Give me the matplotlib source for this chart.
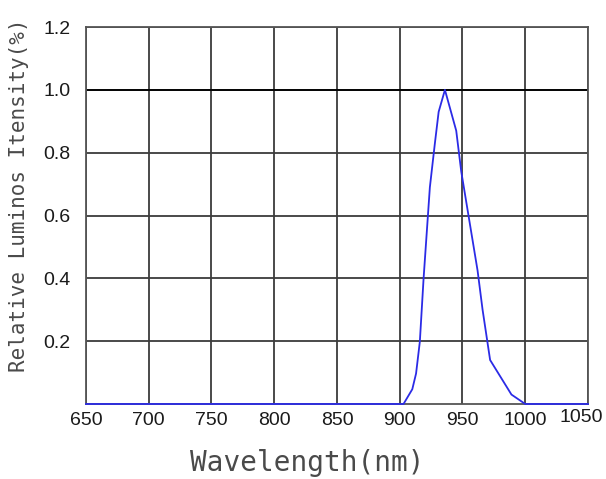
import matplotlib
matplotlib.use('Agg')
import matplotlib.pyplot as plt
from matplotlib import rcParams

rcParams['font.family'] = ['Liberation Sans', 'DejaVu Sans']

# spectrum
wavelength = [650, 900, 903, 910, 913, 916, 919, 924, 928, 931, 936,
              945, 949, 962, 966, 972, 989, 1000, 1050]
intensity = [0.0, 0.0, 0.0, 0.047, 0.097, 0.198, 0.40, 0.69, 0.83, 0.93, 1.0,
             0.87, 0.74, 0.425, 0.30, 0.14, 0.03, 0.0, 0.0]

x_ticks = [650, 700, 750, 800, 850, 900, 950, 1000, 1050]
x_labels = ['650', '700', '750', '800', '850', '900', '950', '1000', '']
y_ticks = [0.2, 0.4, 0.6, 0.8, 1.0, 1.2]
y_labels = ['0.2', '0.4', '0.6', '0.8', '1.0', '1.2']

fig = plt.figure(figsize=(6.06, 4.79), dpi=100)
ax = fig.add_axes([0.1419, 0.1566, 0.8284, 0.787])

ax.plot(wavelength, intensity, color='#2b2be6', linewidth=1.3, zorder=5,
	clip_on=False)

ax.set_xlim(650, 1050)
ax.set_ylim(0, 1.2)
ax.set_xticks(x_ticks)
ax.set_xticklabels(x_labels)
ax.set_yticks(y_ticks)
ax.set_yticklabels(y_labels)
ax.tick_params(length=0, labelsize=14, colors='#1a1a1a')
ax.tick_params(axis='x', pad=6)
ax.tick_params(axis='y', pad=11)

# the last x label sits higher and to the left in the original
ax.annotate('1050', xy=(1050, 0), xycoords='data', xytext=(-5, -3.5),
	textcoords='offset points', ha='center', va='top', fontsize=14,
	color='#1a1a1a')

ax.grid(True, color='#3c3c3c', linewidth=1.3)
ax.axhline(1.0, color='black', linewidth=1.3, zorder=2)
for s in ax.spines.values():
	s.set_color('#555555')
	s.set_linewidth(1.3)

ax.set_xlabel('Wavelength(nm)', fontsize=20, family='DejaVu Sans Mono',
	color='#4a4a4a')
ax.xaxis.label.set_va('center')
ax.xaxis.set_label_coords(0.44, -0.157)
ax.set_ylabel('Relative Luminos Itensity(%)', fontsize=15, family='DejaVu Sans Mono',
	color='#4a4a4a')
ax.yaxis.label.set_va('center')
ax.yaxis.set_label_coords(-0.1335, 0.554)

plt.savefig('out.png', dpi=100)
